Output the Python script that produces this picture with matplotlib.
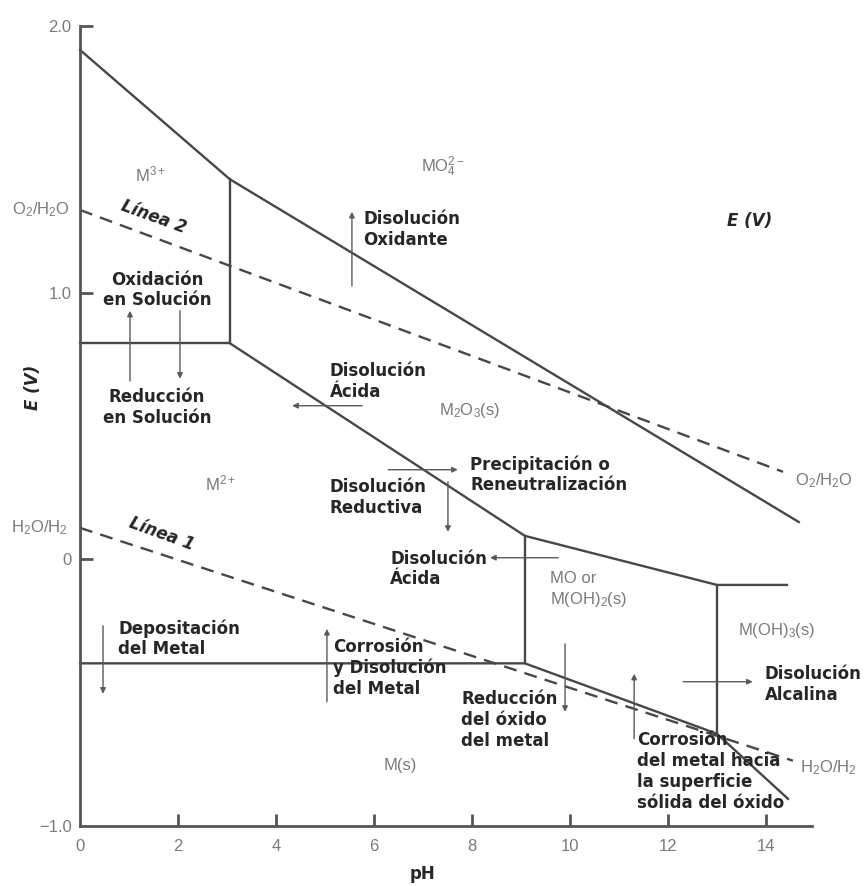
import matplotlib
import matplotlib.pyplot as plt

matplotlib.use('Agg')

# Boundaries of the Pourbaix diagram (pH, E in V)
ph_top = [0, 3.06, 14.67]
e_top = [1.91, 1.425, 0.14]
ph_m3 = [0, 3.06, 3.06]
e_m3 = [0.81, 0.81, 1.425]
ph_m2o3 = [3.06, 9.08, 13.0, 14.43]
e_m2o3 = [0.81, 0.088, -0.096, -0.096]
ph_mo = [9.08, 9.08]
e_mo = [0.088, -0.39]
ph_moh3 = [13.0, 13.0]
e_moh3 = [-0.096, -0.654]
ph_metal = [0, 9.08, 13.0, 14.45]
e_metal = [-0.39, -0.39, -0.654, -0.898]

# Water stability lines
ph_o2 = [0, 14.35]
e_o2 = [1.31, 0.328]
ph_h2 = [0, 14.55]
e_h2 = [0.118, -0.755]

ph_ticks = [0, 2, 4, 6, 8, 10, 12, 14]
e_ticks = [-1.0, 0, 1.0, 2.0]
e_tick_labels = ['\u22121.0', '0', '1.0', '2.0']

# Species fields
species = ['M$^{3+}$', 'MO$_4^{2-}$', 'M$_2$O$_3$(s)', 'M$^{2+}$',
           'MO or\nM(OH)$_2$(s)', 'M(OH)$_3$(s)', 'M(s)']

# Processes
processes = ['Disolución\nOxidante', 'Oxidación\nen Solución', 'Reducción\nen Solución',
             'Disolución\nÁcida', 'Precipitación o\nReneutralización',
             'Disolución\nReductiva', 'Disolución\nÁcida', 'Disolución\nAlcalina',
             'Depositación\ndel Metal', 'Corrosión\ny Disolución\ndel Metal',
             'Reducción\ndel óxido\ndel metal',
             'Corrosión\ndel metal hacia\nla superficie\nsólida del óxido']


def main():
    plt.rcParams['mathtext.default'] = 'regular'
    line_c = '#474747'
    text_c = '#262626'
    grey_c = '#7a7a7a'
    arrow_c = '#5a5a5a'

    fig = plt.figure(figsize=(8.64, 8.86), dpi=100)
    ax = fig.add_axes([0.0926, 0.0677, 0.8472, 0.903])
    ax.set_xlim(0, 14.94)
    ax.set_ylim(-1.0, 2.0)

    # Stability field boundaries
    for ph, e in [(ph_top, e_top), (ph_m3, e_m3), (ph_m2o3, e_m2o3),
                  (ph_mo, e_mo), (ph_moh3, e_moh3), (ph_metal, e_metal)]:
        ax.plot(ph, e, color=line_c, lw=1.7, solid_joinstyle='miter', clip_on=False)

    # Water lines
    ax.plot(ph_o2, e_o2, color=line_c, lw=1.7, dashes=(5.5, 3.5), clip_on=False)
    ax.plot(ph_h2, e_h2, color=line_c, lw=1.7, dashes=(5.5, 3.5), clip_on=False)

    # Axes look
    for side in ['top', 'right']:
        ax.spines[side].set_visible(False)
    for side in ['left', 'bottom']:
        ax.spines[side].set_color('#555555')
        ax.spines[side].set_linewidth(2.0)
    ax.set_xticks(ph_ticks)
    ax.set_xticklabels([str(t) for t in ph_ticks])
    ax.set_yticks(e_ticks)
    ax.set_yticklabels(e_tick_labels)
    ax.tick_params(axis='both', direction='in', length=9, width=2.0, color='#555555',
                   labelcolor=grey_c, labelsize=12)
    ax.tick_params(axis='x', pad=9)
    ax.tick_params(axis='y', pad=6)
    for lab in ax.get_xticklabels() + ax.get_yticklabels():
        lab.set_family('Liberation Sans')
    ax.xaxis.get_major_ticks()[0].tick1line.set_visible(False)
    ax.yaxis.get_major_ticks()[0].tick1line.set_visible(False)

    ax.text(7.0, -1.18, 'pH', ha='center', va='center', fontsize=12,
            fontweight='bold', color=text_c, clip_on=False)
    fig.text(33 / 864, 1 - 387 / 886, 'E (V)', rotation=90, ha='center', va='center',
             fontsize=12, fontweight='bold', fontstyle='italic', color=text_c)
    ax.text(13.67, 1.269, 'E (V)', ha='center', va='center', fontsize=12,
            fontweight='bold', fontstyle='italic', color=text_c)

    # Water line labels
    wl = dict(fontsize=12, color=grey_c, family='Liberation Sans', va='center', clip_on=False)
    ax.text(-0.2, 1.31, 'O$_2$/H$_2$O', ha='right', **wl)
    ax.text(-0.25, 0.118, 'H$_2$O/H$_2$', ha='right', **wl)
    ax.text(14.59, 0.294, 'O$_2$/H$_2$O', ha='left', **wl)
    ax.text(14.69, -0.782, 'H$_2$O/H$_2$', ha='left', **wl)

    lb = dict(fontsize=12, fontweight='bold', fontstyle='italic', color=text_c,
              ha='center', va='center', rotation=-20)
    ax.text(1.5, 1.285, 'Línea 2', **lb)
    ax.text(1.67, 0.095, 'Línea 1', **lb)

    # Species labels
    sp_pos = [(1.43, 1.445, 'center'), (7.41, 1.472, 'center'), (7.96, 0.557, 'center'),
              (2.86, 0.283, 'center'), (9.59, -0.114, 'left'), (13.43, -0.268, 'left'),
              (6.53, -0.774, 'center')]
    for name, (x, y, ha) in zip(species, sp_pos):
        ax.text(x, y, name, ha=ha, va='center', fontsize=12, color=grey_c,
                family='Liberation Sans', linespacing=1.3)

    # Process labels
    pr_pos = [(5.78, 1.236, 'left'), (1.57, 1.01, 'center'), (1.57, 0.568, 'center'),
              (5.10, 0.667, 'left'), (7.96, 0.317, 'left'), (5.10, 0.231, 'left'),
              (6.33, -0.036, 'left'), (13.98, -0.469, 'left'), (0.78, -0.298, 'left'),
              (5.16, -0.407, 'left'), (7.78, -0.602, 'left'), (11.37, -0.795, 'left')]
    for name, (x, y, ha) in zip(processes, pr_pos):
        ax.text(x, y, name, ha=ha, va='center', fontsize=12, fontweight='bold',
                color=text_c, linespacing=1.2)

    # Arrows (tail -> head)
    arrows = [((5.55, 1.025), (5.55, 1.303)), ((1.02, 0.669), (1.02, 0.932)),
              ((2.04, 0.932), (2.04, 0.677)), ((5.76, 0.576), (4.33, 0.576)),
              ((6.29, 0.336), (7.71, 0.336)), ((7.51, 0.291), (7.51, 0.103)),
              ((9.76, 0.006), (8.37, 0.006)), ((12.31, -0.459), (13.73, -0.459)),
              ((0.47, -0.249), (0.47, -0.504)), ((5.04, -0.534), (5.04, -0.261)),
              ((9.90, -0.317), (9.90, -0.572)), ((11.31, -0.673), (11.31, -0.429))]
    for tail, head in arrows:
        ax.annotate('', xy=head, xytext=tail,
                    arrowprops=dict(arrowstyle='-|>', color=arrow_c, lw=1.0,
                                    mutation_scale=8, shrinkA=0, shrinkB=0))

    fig.savefig('out.png', dpi=100, facecolor='white')


if __name__ == "__main__":
    main()
